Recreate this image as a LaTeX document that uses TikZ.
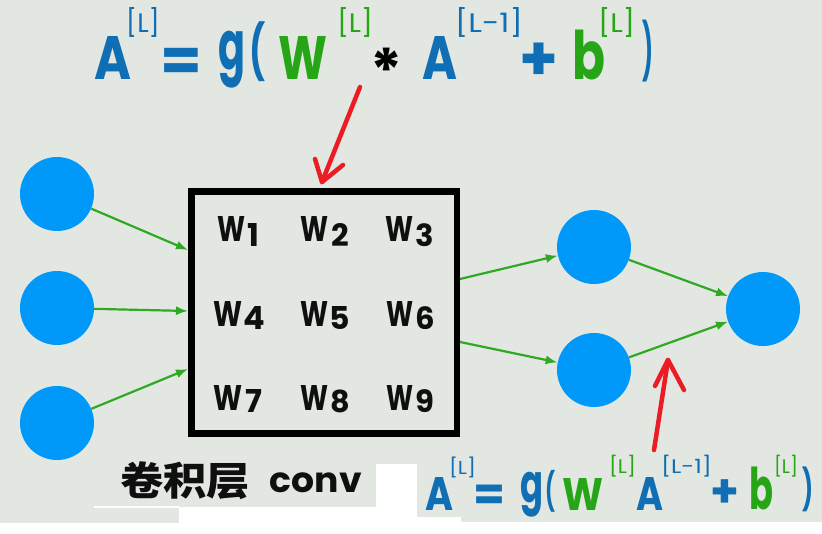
\documentclass[tikz,border=0pt]{standalone}
\usepackage{fontspec}
\usepackage{graphicx}
\newfontfamily\pop{Poppins}
\newfontfamily\cjk{Noto Sans CJK SC}
\usetikzlibrary{arrows.meta}
\definecolor{bg}{RGB}{227,231,225}
\definecolor{nodeblue}{RGB}{0,153,250}
\definecolor{fblue}{RGB}{16,110,180}
\definecolor{fgreen}{RGB}{38,166,22}
\definecolor{agreen}{RGB}{48,168,36}
\definecolor{annred}{RGB}{236,28,36}
\definecolor{ink}{RGB}{15,15,15}
\newcommand{\gb}[3]{\resizebox*{#1pt}{#2pt}{#3}}
\newcommand{\gh}[2]{\resizebox*{!}{#1pt}{#2}}
\newcommand{\fs}[2]{{\fontsize{#1}{#1}\selectfont\pop\bfseries #2}}
\begin{document}
\begin{tikzpicture}[x=1pt,y=-1pt,
  neuron/.style={circle,fill=nodeblue,minimum size=74pt,inner sep=0pt},
  glyph/.style={inner sep=0pt,outer sep=0pt,anchor=center},
  conn/.style={draw=agreen,line width=2.2pt,-{Latex[length=12pt,width=9pt]}},
  redmark/.style={draw=annred,line width=4.5pt,line cap=round,line join=round},
  kernel/.style={draw=black,line width=6.5pt,minimum width=265.5pt,minimum height=242pt,inner sep=0pt}]
\useasboundingbox (0,0) rectangle (822,534);
% background and white patches
\fill[bg] (0,0) rectangle (822,534);
\fill[white] (376,464) rectangle (417,534);
\fill[white] (179,507) rectangle (376,534);
\fill[white] (94,506) rectangle (179,508);
\fill[white] (0,523) rectangle (179,534);
\fill[white] (417,517) rectangle (461,534);
\fill[white] (461,522) rectangle (822,534);

% neurons
\node[neuron] (i1) at (57,194) {};
\node[neuron] (i2) at (57,308) {};
\node[neuron] (i3) at (57,423) {};
\node[neuron] (m1) at (594,247) {};
\node[neuron] (m2) at (594,370) {};
\node[neuron] (o1) at (763,309) {};

% convolution kernel box
\node[kernel] (conv) at (324.25,312.5) {};
\coordinate (in1) at (188,250);
\coordinate (in2) at (188,311);
\coordinate (in3) at (188,369);
\coordinate (out1) at (460,279);
\coordinate (out2) at (460,342);

\draw[conn] (i1) -- (in1);
\draw[conn] (i2) -- (in2);
\draw[conn] (i3) -- (in3);
\draw[conn] (out1) -- (m1);
\draw[conn] (out2) -- (m2);
\draw[conn] (m1) -- (o1);
\draw[conn] (m2) -- (o1);

% kernel weights
\begin{scope}[every node/.style={glyph,text=ink}]
\node (w1) at (231,229.5) {\gb{28}{25}{\pop\bfseries W}};
\node (d1) at (253,235) {\gh{23}{\pop\bfseries 1}};
\node (w2) at (314,229.5) {\gb{28}{25}{\pop\bfseries W}};
\node (d2) at (340,235) {\gh{23}{\pop\bfseries 2}};
\node (w3) at (399,229.5) {\gb{28}{25}{\pop\bfseries W}};
\node (d3) at (425,235) {\gh{23}{\pop\bfseries 3}};
\node (w4) at (227.5,314.5) {\gb{29}{25}{\pop\bfseries W}};
\node (d4) at (254,318) {\gh{23}{\pop\bfseries 4}};
\node (w5) at (314,314.5) {\gb{28}{25}{\pop\bfseries W}};
\node (d5) at (340,318) {\gh{23}{\pop\bfseries 5}};
\node (w6) at (400,314.5) {\gb{27}{25}{\pop\bfseries W}};
\node (d6) at (425,318) {\gh{23}{\pop\bfseries 6}};
\node (w7) at (227.5,397.5) {\gb{29}{25}{\pop\bfseries W}};
\node (d7) at (253.5,401) {\gh{23}{\pop\bfseries 7}};
\node (w8) at (314,397.5) {\gb{28}{25}{\pop\bfseries W}};
\node (d8) at (340,401) {\gh{23}{\pop\bfseries 8}};
\node (w9) at (400,397.5) {\gb{27}{25}{\pop\bfseries W}};
\node (d9) at (425,401) {\gh{23}{\pop\bfseries 9}};
% caption
\node (cap1) at (185,481) {\gb{130}{38}{\cjk\bfseries 卷积层}};
\node (cap2) at (316,483) {\gb{92}{20}{\pop\bfseries conv}};
\end{scope}

% top formula
\begin{scope}[every node/.style={glyph}]
\node[text=fblue] (ta1) at (113.5,58.5) {\gb{37}{43}{\pop\bfseries A}};
\node[text=fblue] (ts1) at (143,22) {\gb{34}{30}{\pop [L]}};
\node[text=fblue,anchor=north] (teq) at (181,48) {\fs{60}{=}};
\node[text=fblue] (tg) at (232,60) {\gb{27}{57}{\pop\bfseries g}};
\node[text=fblue] (tlp) at (257,52) {\gb{16}{60}{\pop\bfseries (}};
\node[text=fgreen] (tw) at (302.5,58.5) {\gb{49}{43}{\pop\bfseries W}};
\node[text=fgreen] (ts2) at (355,22) {\gb{36}{30}{\pop [L]}};
\node[text=black,anchor=north] (tst) at (386.5,48) {\fs{60}{*}};
\node[text=fblue] (ta2) at (440.5,58.5) {\gb{35}{43}{\pop\bfseries A}};
\node[text=fblue] (ts3) at (489,22) {\gb{68}{30}{\pop [L-1]}};
\node[text=fblue,anchor=north] (tpl) at (539,43) {\fs{62}{+}};
\node[text=fgreen] (tb) at (588.5,55) {\gb{33}{50}{\pop\bfseries b}};
\node[text=fgreen] (ts4) at (616.5,22) {\gb{37}{30}{\pop [L]}};
\node[text=fblue] (trp) at (647.5,51) {\gb{11}{62}{\pop\bfseries )}};
\end{scope}

% bottom formula
\begin{scope}[every node/.style={glyph}]
\node[text=fblue] (ba1) at (439,493.5) {\gb{28}{33}{\pop\bfseries A}};
\node[text=fblue] (bs1) at (462.5,467) {\gb{27}{21}{\pop [L]}};
\node[text=fblue,anchor=north] (beq) at (490,485) {\fs{46}{=}};
\node[text=fblue] (bg) at (531.5,494.5) {\gb{23}{45}{\pop\bfseries g}};
\node[text=fblue] (blp) at (550,491) {\gb{10}{42}{\pop\bfseries (}};
\node[text=fgreen] (bw) at (582.5,494) {\gb{41}{32}{\pop\bfseries W}};
\node[text=fgreen] (bs2) at (622.5,466) {\gb{27}{22}{\pop [L]}};
\node[text=fblue] (ba2) at (649.5,493.5) {\gb{27}{33}{\pop\bfseries A}};
\node[text=fblue] (bs3) at (686.5,466) {\gb{51}{22}{\pop [L-1]}};
\node[text=fblue,anchor=north] (bpl) at (725,480) {\fs{46}{+}};
\node[text=fgreen] (bb) at (761,488.5) {\gb{24}{43}{\pop\bfseries b}};
\node[text=fgreen] (bs4) at (786,466) {\gb{24}{22}{\pop [L]}};
\node[text=fblue] (brp) at (807.5,489.5) {\gb{11}{45}{\pop\bfseries )}};
\end{scope}

% red hand-drawn annotation arrows
\coordinate (rt1) at (360,87);
\coordinate (rt2) at (322,182);
\coordinate (ra1) at (315,159);
\coordinate (ra2) at (343,165);
\draw[redmark] (rt1) -- (rt2);
\draw[redmark] (ra1) -- (rt2) -- (ra2);
\coordinate (rb1) at (654,450);
\coordinate (rb2) at (668,360);
\coordinate (rb3) at (655,386);
\coordinate (rb4) at (684,390);
\draw[redmark] (rb1) -- (rb2);
\draw[redmark] (rb3) -- (rb2) -- (rb4);
\end{tikzpicture}
\end{document}
